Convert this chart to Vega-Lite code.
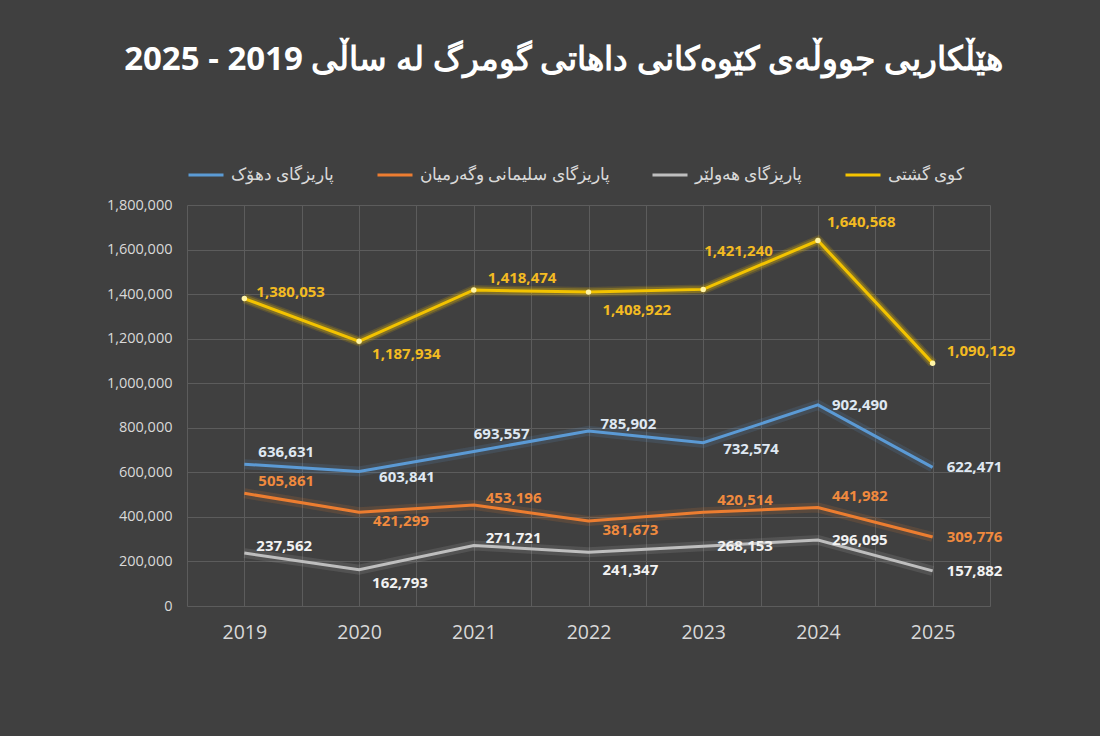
{
  "$schema": "https://vega.github.io/schema/vega-lite/v6.json",
  "width": 803,
  "height": 401,
  "autosize": {"type": "none"},
  "padding": {"left": 187, "top": 205, "right": 110, "bottom": 130},
  "background": "#404040",
  "config": {
    "view": {"stroke": null},
    "font": "Open Sans",
    "axis": {"gridColor": "#5c5c5c", "gridWidth": 1, "domain": false, "ticks": false, "labelColor": "#d9d9d9", "labelFont": "Open Sans", "title": null}
  },
  "title": {
    "text": "‫هێڵکاریی جووڵەی کێوەکانی داهاتی گومرگ لە ساڵی 2019 - 2025‬",
    "anchor": "middle",
    "dx": -25,
    "fontSize": 33,
    "fontWeight": "bold",
    "font": "Open Sans",
    "color": "#ffffff",
    "offset": 79
  },
  "data": {
    "values": [
      {"s": "T", "series": "کوی گشتی", "year": 2019, "value": 1380053},
      {"s": "T", "series": "کوی گشتی", "year": 2020, "value": 1187934},
      {"s": "T", "series": "کوی گشتی", "year": 2021, "value": 1418474},
      {"s": "T", "series": "کوی گشتی", "year": 2022, "value": 1408922},
      {"s": "T", "series": "کوی گشتی", "year": 2023, "value": 1421240},
      {"s": "T", "series": "کوی گشتی", "year": 2024, "value": 1640568},
      {"s": "T", "series": "کوی گشتی", "year": 2025, "value": 1090129},
      {"s": "D", "series": "پاریزگای دهۆک", "year": 2019, "value": 636631},
      {"s": "D", "series": "پاریزگای دهۆک", "year": 2020, "value": 603841},
      {"s": "D", "series": "پاریزگای دهۆک", "year": 2021, "value": 693557},
      {"s": "D", "series": "پاریزگای دهۆک", "year": 2022, "value": 785902},
      {"s": "D", "series": "پاریزگای دهۆک", "year": 2023, "value": 732574},
      {"s": "D", "series": "پاریزگای دهۆک", "year": 2024, "value": 902490},
      {"s": "D", "series": "پاریزگای دهۆک", "year": 2025, "value": 622471},
      {"s": "S", "series": "پاریزگای سلیمانی وگەرمیان", "year": 2019, "value": 505861},
      {"s": "S", "series": "پاریزگای سلیمانی وگەرمیان", "year": 2020, "value": 421299},
      {"s": "S", "series": "پاریزگای سلیمانی وگەرمیان", "year": 2021, "value": 453196},
      {"s": "S", "series": "پاریزگای سلیمانی وگەرمیان", "year": 2022, "value": 381673},
      {"s": "S", "series": "پاریزگای سلیمانی وگەرمیان", "year": 2023, "value": 420514},
      {"s": "S", "series": "پاریزگای سلیمانی وگەرمیان", "year": 2024, "value": 441982},
      {"s": "S", "series": "پاریزگای سلیمانی وگەرمیان", "year": 2025, "value": 309776},
      {"s": "E", "series": "پاریزگای هەولێر", "year": 2019, "value": 237562},
      {"s": "E", "series": "پاریزگای هەولێر", "year": 2020, "value": 162793},
      {"s": "E", "series": "پاریزگای هەولێر", "year": 2021, "value": 271721},
      {"s": "E", "series": "پاریزگای هەولێر", "year": 2022, "value": 241347},
      {"s": "E", "series": "پاریزگای هەولێر", "year": 2023, "value": 268153},
      {"s": "E", "series": "پاریزگای هەولێر", "year": 2024, "value": 296095},
      {"s": "E", "series": "پاریزگای هەولێر", "year": 2025, "value": 157882}
    ]
  },
  "encoding": {
    "x": {
      "field": "year", "type": "quantitative",
      "scale": {"domain": [2018.5, 2025.5], "nice": false, "zero": false},
      "axis": {
        "values": [2018.5, 2019, 2019.5, 2020, 2020.5, 2021, 2021.5, 2022, 2022.5, 2023, 2023.5, 2024, 2024.5, 2025, 2025.5],
        "labelExpr": "datum.value % 1 === 0 ? format(datum.value, 'd') : ''",
        "labelFontSize": 19.5, "labelPadding": 17, "grid": true
      }
    },
    "y": {
      "field": "value", "type": "quantitative",
      "scale": {"domain": [0, 1800000], "nice": false},
      "axis": {
        "values": [0, 200000, 400000, 600000, 800000, 1000000, 1200000, 1400000, 1600000, 1800000],
        "format": ",d", "labelFontSize": 14.5, "labelPadding": 15, "grid": true
      }
    }
  },
  "layer": [
    {
      "mark": {"type": "line", "strokeWidth": 3},
      "encoding": {
        "color": {"field": "series", "type": "nominal",
          "scale": {"domain": ["پاریزگای دهۆک", "پاریزگای سلیمانی وگەرمیان", "پاریزگای هەولێر", "کوی گشتی"], "range": ["#5b9bd5", "#ed7d31", "#bfbfbf", "#f5c400"]},
          "legend": {
            "title": null, "orient": "none", "direction": "horizontal", "legendX": 0, "legendY": -49,
            "symbolType": "stroke", "symbolSize": 1225, "symbolStrokeWidth": 3, "symbolOpacity": 1,
            "labelColor": "#d9d9d9", "labelFontSize": 17, "labelFont": "Open Sans", "labelLimit": 400,
            "labelOffset": 6, "columnPadding": 36,
            "encode": {"symbols": {"update": {"size": {"value": 1225}, "strokeWidth": {"value": 3}, "opacity": {"value": 1}, "strokeOpacity": {"value": 1}}}}
          }
        }
      }
    },
    {
      "mark": {"type": "line", "strokeWidth": 10, "opacity": 0.15},
      "encoding": {
        "color": {"field": "series", "type": "nominal"}
      }
    },
    {
      "transform": [{"filter": "datum.s === 'T'"}],
      "mark": {"type": "line", "strokeWidth": 7, "opacity": 0.25, "color": "#f0c400"},
      "encoding": {}
    },
    {
      "transform": [{"filter": "datum.s === 'T'"}],
      "mark": {"type": "point", "filled": true, "size": 30, "color": "#fff4a6", "opacity": 1},
      "encoding": {}
    },
    {
      "encoding": {
        "text": {"field": "value", "type": "quantitative", "format": ",d"},
        "fill": {"field": "s", "type": "nominal", "legend": null,
          "scale": {"domain": ["D", "S", "E", "T"], "range": ["#dfe8f2", "#f08a3e", "#f2f2f2", "#f3bb22"]}},
        "size": {"field": "s", "type": "nominal", "legend": null,
          "scale": {"domain": ["D", "S", "E", "T"], "range": [15, 15, 15, 16.5]}}
      },
      "layer": [
        {
          "transform": [{"filter": "indexof(['D2024','D2025','S2025','E2023','E2024','E2025'], datum.s + datum.year) >= 0"}],
          "mark": {"type": "text", "align": "left", "baseline": "middle", "fontWeight": "bold", "dx": 14, "dy": 0}
        },
        {
          "transform": [{"filter": "indexof(['T2019','D2022','S2021','E2019','E2021'], datum.s + datum.year) >= 0"}],
          "mark": {"type": "text", "align": "left", "baseline": "middle", "fontWeight": "bold", "dx": 12, "dy": -7}
        },
        {
          "transform": [{"filter": "indexof(['T2021','T2025','D2019','S2019','S2023','S2024'], datum.s + datum.year) >= 0"}],
          "mark": {"type": "text", "align": "left", "baseline": "middle", "fontWeight": "bold", "dx": 14, "dy": -12}
        },
        {
          "transform": [{"filter": "indexof(['T2024'], datum.s + datum.year) >= 0"}],
          "mark": {"type": "text", "align": "left", "baseline": "middle", "fontWeight": "bold", "dx": 9, "dy": -19}
        },
        {
          "transform": [{"filter": "indexof(['D2021'], datum.s + datum.year) >= 0"}],
          "mark": {"type": "text", "align": "left", "baseline": "middle", "fontWeight": "bold", "dx": 0, "dy": -17}
        },
        {
          "transform": [{"filter": "indexof(['S2020','S2022'], datum.s + datum.year) >= 0"}],
          "mark": {"type": "text", "align": "left", "baseline": "middle", "fontWeight": "bold", "dx": 14, "dy": 9}
        },
        {
          "transform": [{"filter": "indexof(['D2020','D2023'], datum.s + datum.year) >= 0"}],
          "mark": {"type": "text", "align": "left", "baseline": "middle", "fontWeight": "bold", "dx": 20, "dy": 6}
        },
        {
          "transform": [{"filter": "indexof(['T2020','E2020'], datum.s + datum.year) >= 0"}],
          "mark": {"type": "text", "align": "left", "baseline": "middle", "fontWeight": "bold", "dx": 13, "dy": 13}
        },
        {
          "transform": [{"filter": "indexof(['T2022','E2022'], datum.s + datum.year) >= 0"}],
          "mark": {"type": "text", "align": "left", "baseline": "middle", "fontWeight": "bold", "dx": 14, "dy": 18}
        },
        {
          "transform": [{"filter": "indexof(['T2023'], datum.s + datum.year) >= 0"}],
          "mark": {"type": "text", "align": "left", "baseline": "middle", "fontWeight": "bold", "dx": 1, "dy": -38}
        }
      ]
    }
  ]
}
